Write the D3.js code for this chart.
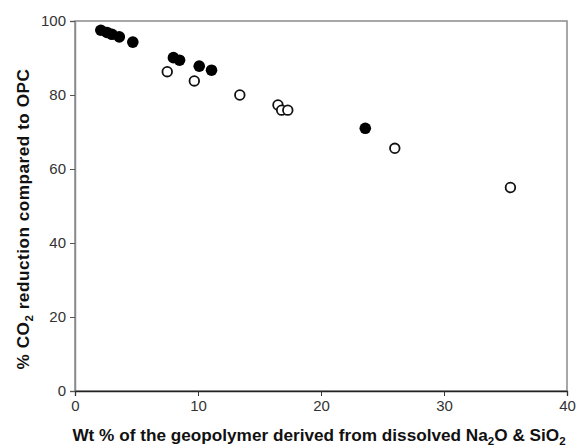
<!DOCTYPE html>
<html><head><meta charset="utf-8">
<script src="https://cdn.jsdelivr.net/npm/d3@7"></script>
<style>body{margin:0;background:#fff}svg{display:block}</style>
</head><body>
<svg id="c" width="576" height="446"></svg>
<script>
const filledX = [2.1, 2.6, 3.0, 3.6, 4.7, 8.0, 8.5, 10.1, 11.1, 23.6];
const filledY = [97.5, 96.9, 96.4, 95.7, 94.3, 90.1, 89.4, 87.8, 86.7, 71.0];
const openX = [7.5, 9.7, 13.4, 16.5, 16.8, 17.3, 26.0, 35.4];
const openY = [86.3, 83.8, 80.0, 77.3, 75.9, 75.9, 65.6, 55.0];
const xTicks = [0, 10, 20, 30, 40];
const yTicks = [0, 20, 40, 60, 80, 100];

const svg = d3.select("#c");
const m = {l: 75, r: 9, t: 21, b: 55};
const W = 576, H = 446;
const x = d3.scaleLinear().domain([0, 40]).range([m.l, W - m.r]);
const y = d3.scaleLinear().domain([0, 100]).range([H - m.b, m.t]);
const font = "Liberation Sans, Arial, sans-serif";

// frame
svg.append("rect").attr("x", x(0)).attr("y", y(100)).attr("width", x(40) - x(0)).attr("height", y(0) - y(100))
  .attr("fill", "none").attr("stroke", "#8a8a8a").attr("stroke-width", 1.5);

const ya = svg.append("g").attr("transform", `translate(${x(0)},0)`)
  .call(d3.axisLeft(y).tickValues(yTicks).tickSize(5).tickPadding(4));
ya.select(".domain").attr("stroke", "#8a8a8a").attr("stroke-width", 1.5);
ya.selectAll(".tick line").attr("stroke", "#555");
ya.selectAll("text").attr("font-family", font).attr("font-size", 15).attr("fill", "#333");

const xa = svg.append("g").attr("transform", `translate(0,${y(0)})`)
  .call(d3.axisBottom(x).tickValues(xTicks).tickSize(5).tickPadding(4));
xa.select(".domain").attr("stroke", "#222").attr("stroke-width", 1.3);
xa.selectAll(".tick line").attr("stroke", "#333");
xa.selectAll("text").attr("font-family", font).attr("font-size", 15).attr("fill", "#333");

// points
const filled = filledX.map((v, i) => ({x: v, y: filledY[i]}));
const open = openX.map((v, i) => ({x: v, y: openY[i]}));
svg.append("g").selectAll("circle").data(open).join("circle")
  .attr("cx", d => x(d.x)).attr("cy", d => y(d.y)).attr("r", 4.8)
  .attr("fill", "#fff").attr("stroke", "#111").attr("stroke-width", 1.8);
svg.append("g").selectAll("circle").data(filled).join("circle")
  .attr("cx", d => x(d.x)).attr("cy", d => y(d.y)).attr("r", 5.8)
  .attr("fill", "#000");

// x title
const xt = svg.append("text").attr("x", 319).attr("y", 441)
  .attr("text-anchor", "middle").attr("font-family", font).attr("font-size", 17.2)
  .attr("font-weight", "bold").attr("fill", "#111");
xt.append("tspan").text("Wt % of the geopolymer derived from dissolved Na");
xt.append("tspan").attr("font-size", 11.5).attr("dy", 4).text("2");
xt.append("tspan").attr("dy", -4).text("O & SiO");
xt.append("tspan").attr("font-size", 11.5).attr("dy", 4).text("2");

// y title
const yt = svg.append("text").attr("transform", `translate(29,219) rotate(-90)`)
  .attr("text-anchor", "middle").attr("font-family", font).attr("font-size", 17.2)
  .attr("letter-spacing", 0.5)
  .attr("font-weight", "bold").attr("fill", "#111");
yt.append("tspan").text("% CO");
yt.append("tspan").attr("font-size", 11.5).attr("dy", 4).text("2");
yt.append("tspan").attr("dy", -4).text(" reduction compared to OPC");
</script>
</body></html>
